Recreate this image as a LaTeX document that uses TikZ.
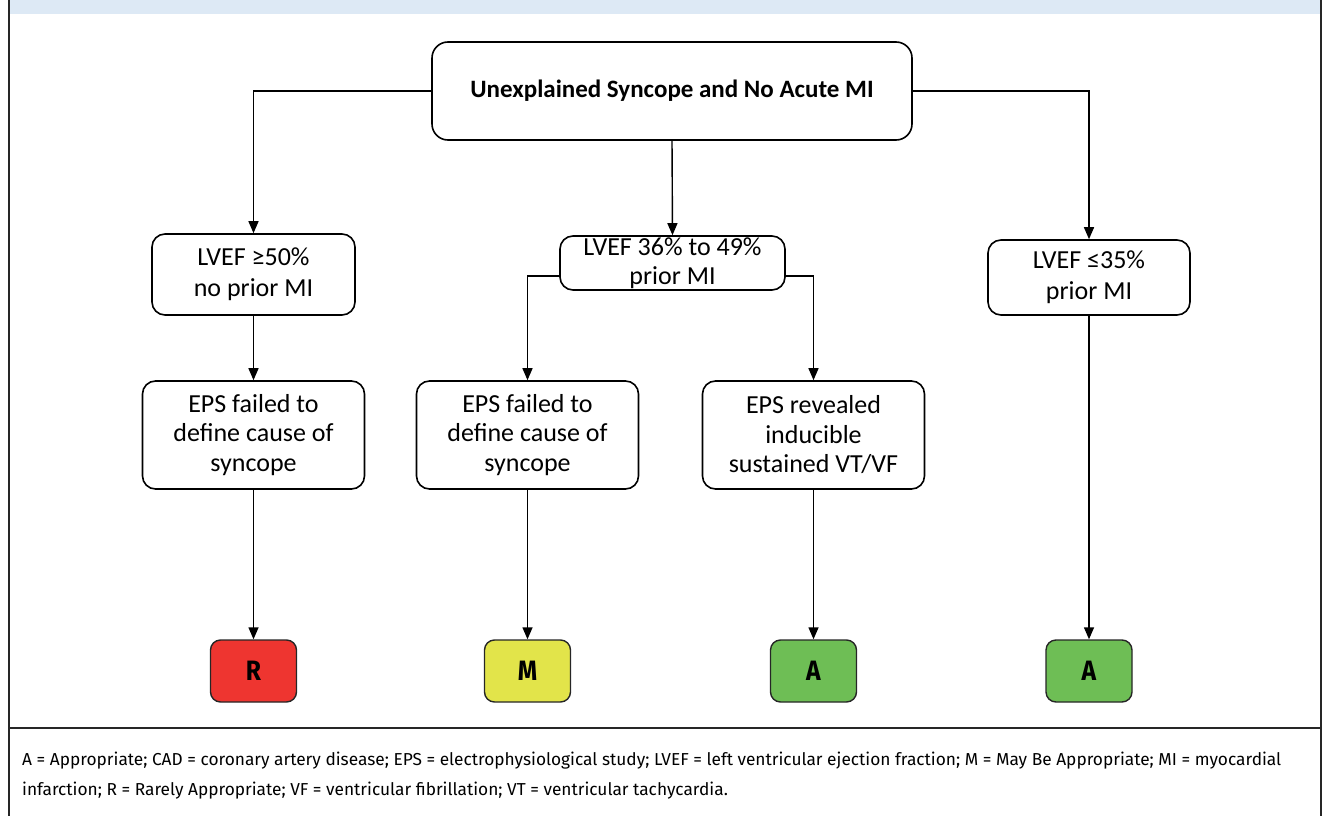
\documentclass[tikz,border=0pt]{standalone}
\usepackage{fontspec}
\setmainfont{Carlito}
\newfontfamily\notefont{Fira Sans}
\newfontfamily\ratefont[FakeStretch=0.88]{Fira Sans}
\usetikzlibrary{arrows.meta}
\definecolor{barblue}{HTML}{DDE9F5}
\definecolor{ratR}{HTML}{EE3530}
\definecolor{ratM}{HTML}{E2E44A}
\definecolor{ratA}{HTML}{6EBE55}
\tikzset{
  box/.style={draw=black, line width=1.6pt, rounded corners=13pt, align=center,
    font=\fontsize{26}{31}\selectfont, inner sep=0pt},
  stepbox/.style={box, minimum width=222pt, minimum height=108pt,
    font=\fontsize{26}{29.5}\selectfont},
  rating/.style={draw=black!85, line width=1.4pt, rounded corners=10pt,
    minimum width=86pt, minimum height=62pt, inner sep=0pt,
    font=\ratefont\bfseries\fontsize{28}{28}\selectfont},
  arr/.style={line width=1.4pt, -{Triangle[length=12pt,width=10pt]}},
  frameline/.style={line width=2pt, draw=black!85}
}
\begin{document}
\begin{tikzpicture}[x=1pt, y=-1pt]
\useasboundingbox (0,0) rectangle (1325,816);

% panel frame and title bar
\fill[barblue] (9,0) rectangle (1321,14);
\draw[frameline] (9,0) -- (9,816);
\draw[frameline] (1321,0) -- (1321,816);
\draw[line width=1.6pt, draw=black!85] (9,728) -- (1321,728);

% decision boxes
\node[box, minimum width=480pt, minimum height=98pt, rounded corners=16pt,
  font=\bfseries\fontsize{25}{26}\selectfont] (top) at (672,91)
  {Unexplained Syncope and No Acute MI};

\node[box, minimum width=203pt, minimum height=81pt] (lv1) at (253.5,274.5)
  {LVEF ≥50\%\\no prior MI};
\node[box, minimum width=225pt, minimum height=54pt,
  font=\fontsize{26}{28.5}\selectfont] (lv2) at (672.5,263)
  {LVEF 36\% to 49\%\\prior MI};
\node[box, minimum width=202pt, minimum height=75pt] (lv3) at (1089,277.5)
  {LVEF ≤35\%\\prior MI};

\node[stepbox] (eps1) at (253.5,435) {EPS failed to\\define cause of\\syncope};
\node[stepbox] (eps2) at (527.5,435) {EPS failed to\\define cause of\\syncope};
\node[stepbox] (eps3) at (813.5,435) {EPS revealed\\inducible\\sustained VT/VF};

% ratings
\node[rating, fill=ratR] (rR) at (253.5,671) {R};
\node[rating, fill=ratM] (rM) at (527.5,671) {M};
\node[rating, fill=ratA] (rA1) at (813.5,671) {A};
\node[rating, fill=ratA] (rA2) at (1089,671) {A};

% connectors
\draw[arr] (top.west) -| (lv1.north);
\draw[arr] (top.east) -| (lv3.north);
\draw[arr] (top.south) -- (lv2.north);
\draw[arr] ([yshift=-13pt]lv2.west) -| (eps2.north);
\draw[arr] ([yshift=-13pt]lv2.east) -| (eps3.north);
\draw[arr] (lv1.south) -- (eps1.north);
\draw[arr] (lv3.south) -- (rA2.north);
\draw[arr] (eps1.south) -- (rR.north);
\draw[arr] (eps2.south) -- (rM.north);
\draw[arr] (eps3.south) -- (rA1.north);

% abbreviations
\node[anchor=north west, align=left, inner sep=0pt,
  font=\notefont\fontsize{17.3}{30}\selectfont] (note) at (22,752)
  {A = Appropriate; CAD = coronary artery disease; EPS = electrophysiological study; LVEF = left ventricular ejection fraction; M = May Be Appropriate; MI = myocardial\\
   infarction; R = Rarely Appropriate; VF = ventricular fibrillation; VT = ventricular tachycardia.};
\end{tikzpicture}
\end{document}
